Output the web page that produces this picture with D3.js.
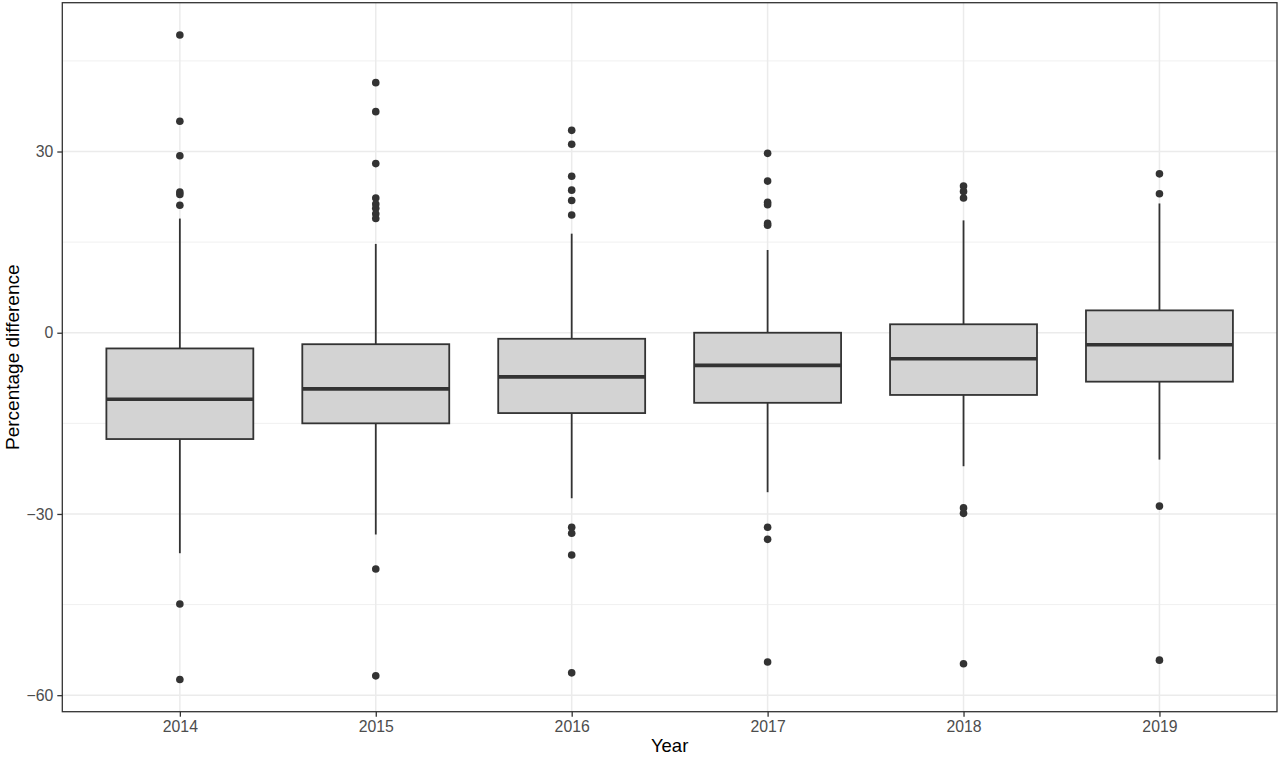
<!DOCTYPE html>
<html>
<head>
<meta charset="utf-8">
<script src="https://cdn.jsdelivr.net/npm/d3@7"></script>
<style>
  body { margin: 0; background: #fff; }
  svg { display: block; font-family: "Liberation Sans", Arial, sans-serif; }
</style>
</head>
<body>
<div id="chart"></div>
<script>
// box statistics per year
var years = ["2014", "2015", "2016", "2017", "2018", "2019"];
var whiskerLow = [-36.5, -33.4, -27.4, -26.4, -22.1, -21.0];
var q1 = [-17.6, -15.0, -13.3, -11.6, -10.3, -8.1];
var median = [-11.0, -9.3, -7.3, -5.4, -4.3, -2.0];
var q3 = [-2.6, -1.9, -1.0, 0.0, 1.4, 3.7];
var whiskerHigh = [18.9, 14.7, 16.4, 13.7, 18.6, 21.4];
var outliers = [
  [49.3, 35.0, 29.3, 23.3, 22.9, 21.1, -44.9, -57.4],
  [41.4, 36.6, 28.0, 22.3, 21.3, 20.6, 19.7, 18.9, -39.1, -56.8],
  [33.5, 31.2, 25.9, 23.6, 21.9, 19.5, -32.2, -33.2, -36.8, -56.3],
  [29.7, 25.1, 21.6, 21.2, 18.1, 17.8, -32.2, -34.2, -54.5],
  [24.3, 23.4, 22.3, -29.0, -29.9, -54.8],
  [26.3, 23.0, -28.7, -54.2]
];
var yTicks = [-60, -30, 0, 30];
var yMinorTicks = [-45, -15, 15, 45];

var margin = {top: 2.7, right: 3, bottom: 46.3, left: 62.3};
var W = 1280, H = 758;
var width = W - margin.left - margin.right;
var height = H - margin.top - margin.bottom;

var svg = d3.select("#chart")
  .append("svg")
  .attr("width", W)
  .attr("height", H)
  .append("g")
  .attr("transform", "translate(" + margin.left + "," + margin.top + ")");

var data = years.map(function(y, i) {
  return {year: y, lo: whiskerLow[i], q1: q1[i], med: median[i], q3: q3[i], hi: whiskerHigh[i], out: outliers[i]};
});

// y domain like ggplot: data range plus 5% each side
var all = d3.merge(outliers).concat(whiskerLow, whiskerHigh);
var ext = d3.extent(all);
var pad = (ext[1] - ext[0]) * 0.05;
var y = d3.scaleLinear()
  .domain([ext[0] - pad, ext[1] + pad])
  .range([height, 0]);

var x = d3.scalePoint()
  .domain(years)
  .range([0, width])
  .padding(0.6);
var boxW = x.step() * 0.75;

// grid
svg.append("g").selectAll("line")
  .data(yMinorTicks).enter().append("line")
  .attr("x1", 0).attr("x2", width)
  .attr("y1", function(d) { return y(d); })
  .attr("y2", function(d) { return y(d); })
  .attr("stroke", "#f0f0f0").attr("stroke-width", 1);

svg.append("g").selectAll("line")
  .data(yTicks).enter().append("line")
  .attr("x1", 0).attr("x2", width)
  .attr("y1", function(d) { return y(d); })
  .attr("y2", function(d) { return y(d); })
  .attr("stroke", "#ebebeb").attr("stroke-width", 1.5);

svg.append("g").selectAll("line")
  .data(years).enter().append("line")
  .attr("x1", function(d) { return x(d); })
  .attr("x2", function(d) { return x(d); })
  .attr("y1", 0).attr("y2", height)
  .attr("stroke", "#ebebeb").attr("stroke-width", 1.5);

// boxes
var g = svg.append("g").selectAll("g")
  .data(data).enter().append("g")
  .attr("transform", function(d) { return "translate(" + x(d.year) + ",0)"; });

g.append("line")
  .attr("y1", function(d) { return y(d.hi); })
  .attr("y2", function(d) { return y(d.q3); })
  .attr("stroke", "#333333").attr("stroke-width", 1.8);
g.append("line")
  .attr("y1", function(d) { return y(d.q1); })
  .attr("y2", function(d) { return y(d.lo); })
  .attr("stroke", "#333333").attr("stroke-width", 1.8);

g.append("rect")
  .attr("x", -boxW / 2)
  .attr("width", boxW)
  .attr("y", function(d) { return y(d.q3); })
  .attr("height", function(d) { return y(d.q1) - y(d.q3); })
  .attr("fill", "#d3d3d3")
  .attr("stroke", "#333333").attr("stroke-width", 1.8);

g.append("line")
  .attr("x1", -boxW / 2).attr("x2", boxW / 2)
  .attr("y1", function(d) { return y(d.med); })
  .attr("y2", function(d) { return y(d.med); })
  .attr("stroke", "#333333").attr("stroke-width", 3.6);

g.selectAll("circle")
  .data(function(d) { return d.out; })
  .enter().append("circle")
  .attr("cx", 0)
  .attr("cy", function(d) { return y(d); })
  .attr("r", 3.8)
  .attr("fill", "#333333");

// panel border
svg.append("rect")
  .attr("width", width).attr("height", height)
  .attr("fill", "none")
  .attr("stroke", "#333333").attr("stroke-width", 1.3);

// axes
var xAxis = svg.append("g")
  .attr("transform", "translate(0," + height + ")")
  .call(d3.axisBottom(x).tickSize(5).tickPadding(4));
var yAxis = svg.append("g")
  .call(d3.axisLeft(y).tickValues(yTicks).tickSize(5).tickPadding(4).tickFormat(d3.format("d")));

[xAxis, yAxis].forEach(function(a) {
  a.select(".domain").remove();
  a.selectAll(".tick line").attr("stroke", "#333333").attr("stroke-width", 1.3);
  a.selectAll(".tick text")
    .attr("fill", "#4d4d4d")
    .style("font-size", "15.8px")
    .style("font-family", "'Liberation Sans', Arial, sans-serif");
});

// axis titles
svg.append("text")
  .attr("x", width / 2)
  .attr("y", height + 40.5)
  .attr("text-anchor", "middle")
  .style("font-size", "18.5px")
  .attr("fill", "#000")
  .text("Year");

svg.append("text")
  .attr("transform", "translate(" + (-margin.left + 18.5) + "," + (height / 2) + ") rotate(-90)")
  .attr("text-anchor", "middle")
  .style("font-size", "19px")
  .attr("fill", "#000")
  .text("Percentage difference");
</script>
</body>
</html>
